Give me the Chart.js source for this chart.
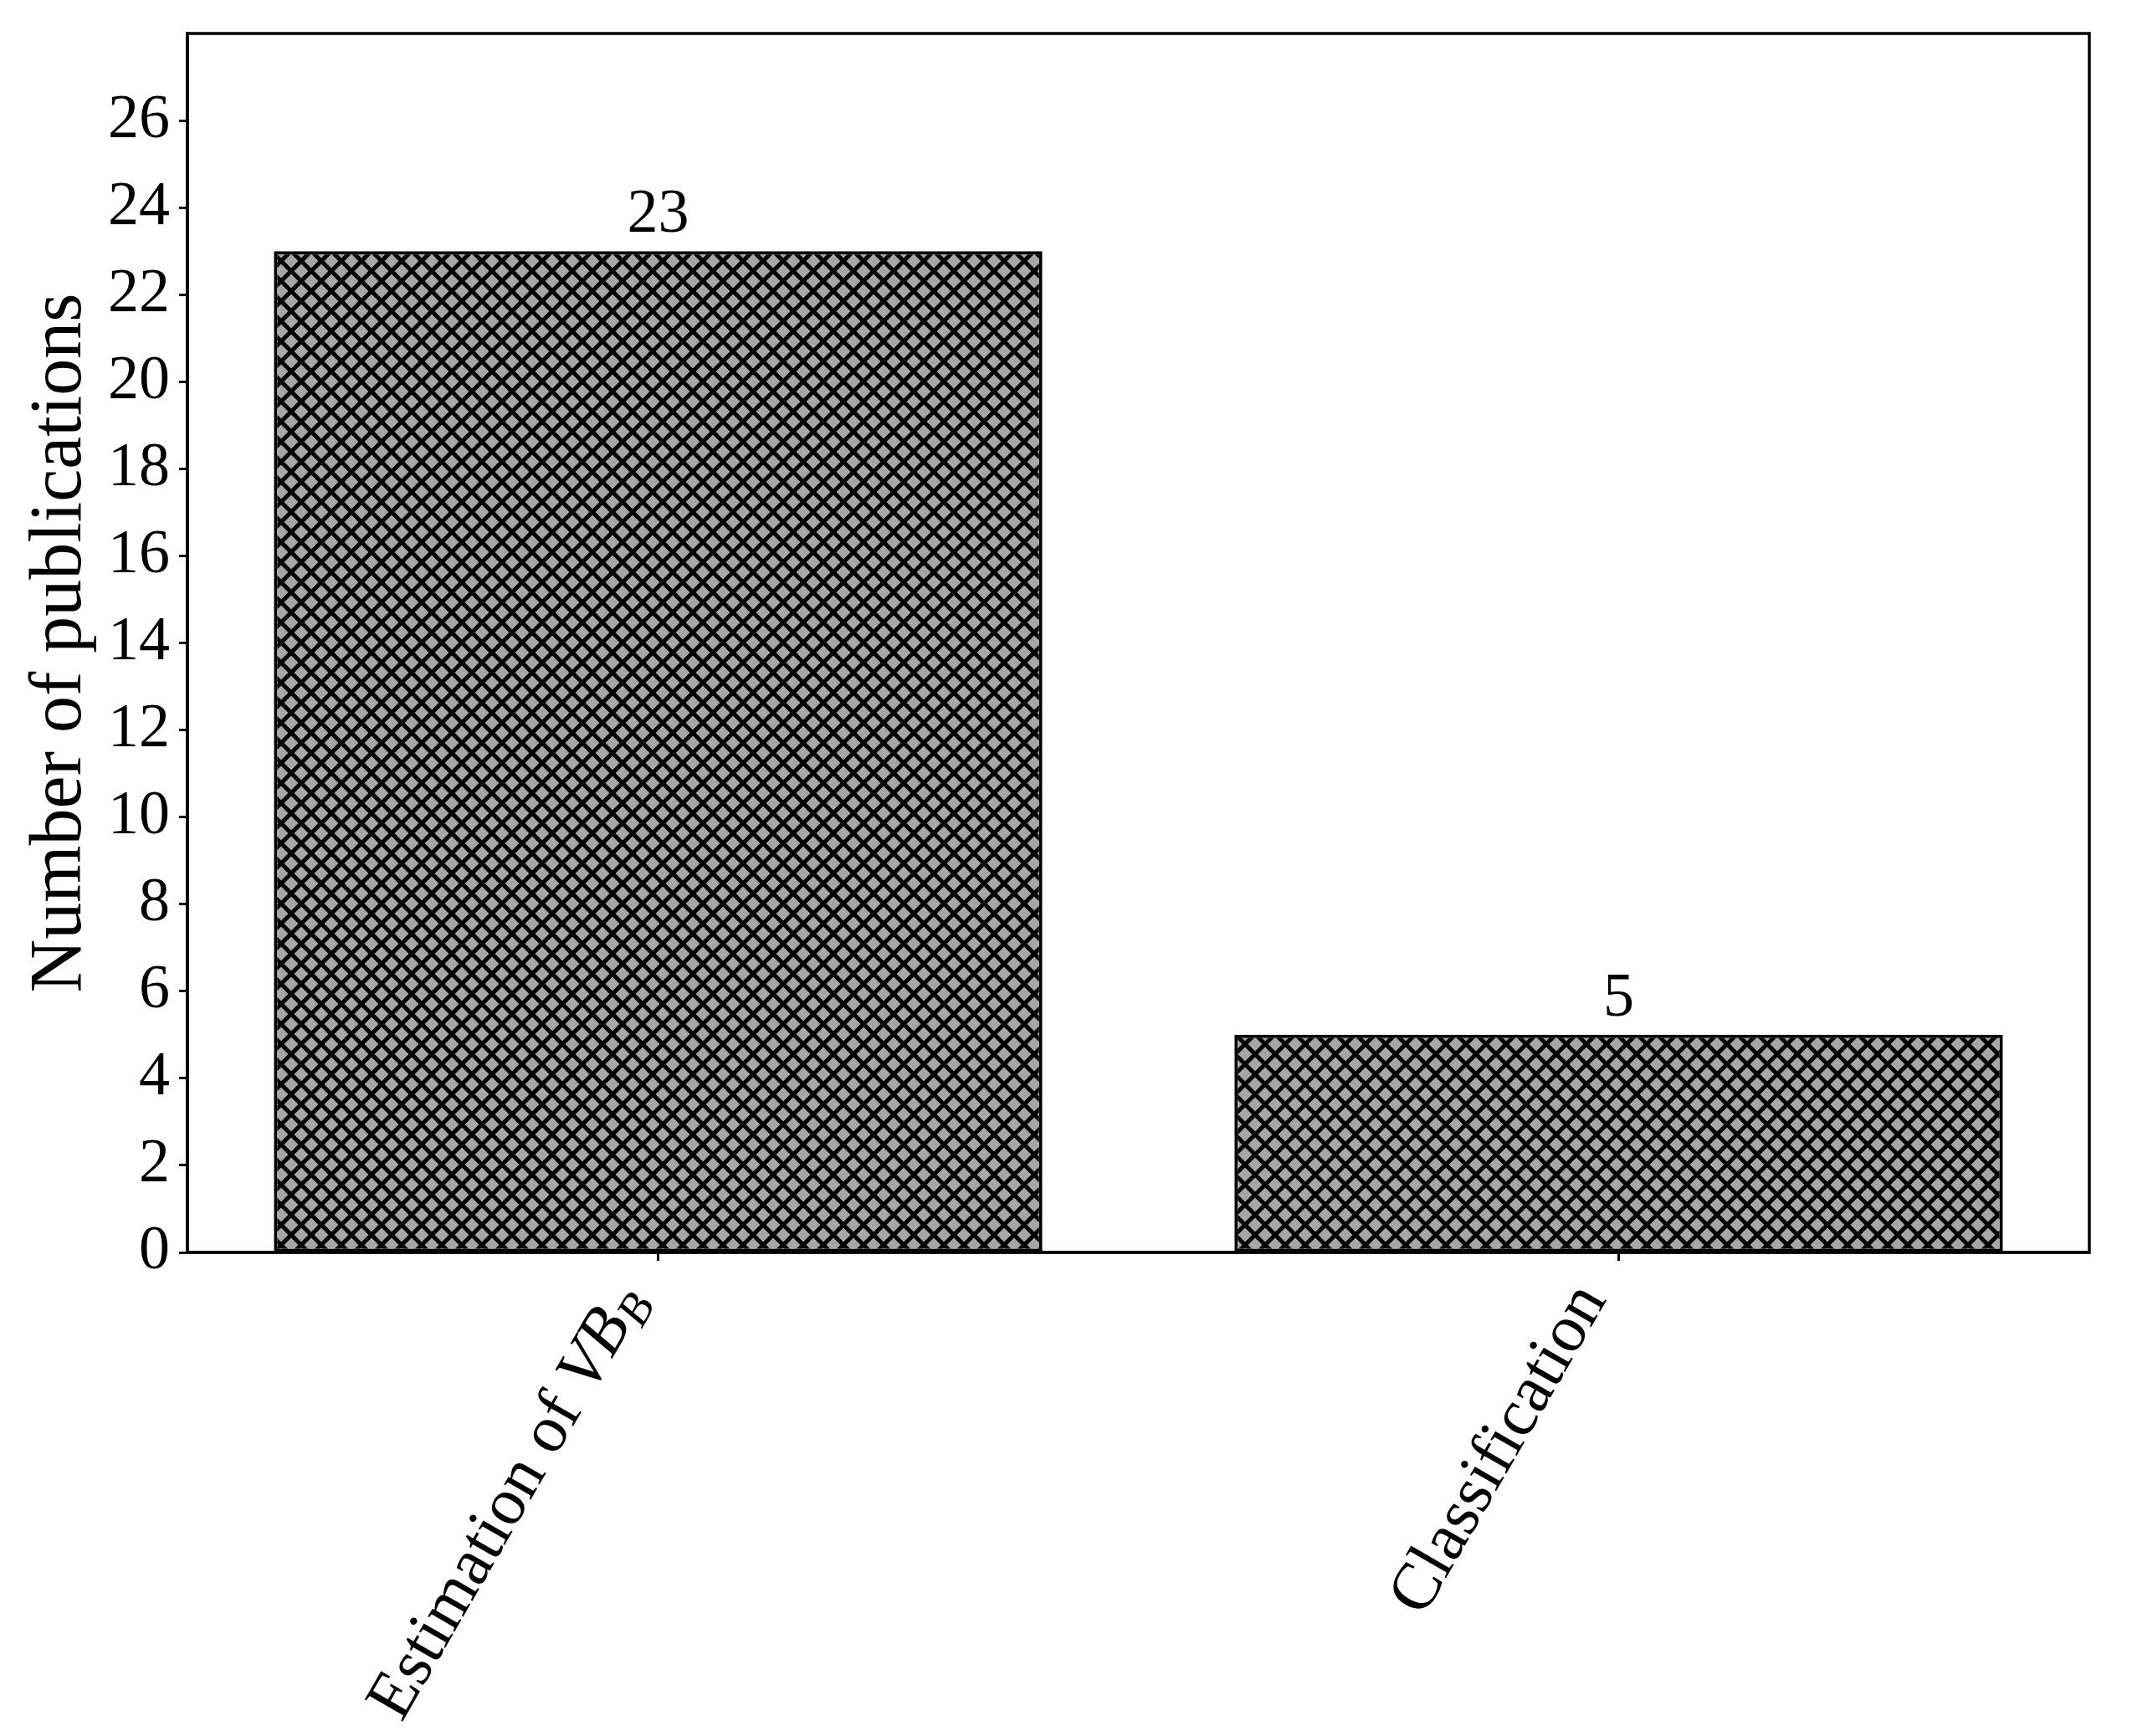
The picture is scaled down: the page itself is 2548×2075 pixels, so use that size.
<!DOCTYPE html>
<html><head><meta charset="utf-8">
<script src="https://cdn.jsdelivr.net/npm/chart.js@4.4.1/dist/chart.umd.min.js"></script>
<style>html,body{margin:0;padding:0;background:#fff;overflow:hidden}</style>
</head><body>
<canvas id="c" width="2548" height="2075"></canvas>
<script>
// ---- data ----
const categories = ['Estimation of VB_B', 'Classification'];
const categoryLabelParts = [
  [{t:'Estimation of ', italic:false}, {t:'VB', italic:true}, {t:'B', italic:true, sub:true}],
  [{t:'Classification', italic:false}]
];
const publications = [23, 5];
const categoryPositions = [0, 1];
const yTickValues = [0, 2, 4, 6, 8, 10, 12, 14, 16, 18, 20, 22, 24, 26];
const yMax = 28;
const xMin = -0.49, xMax = 1.49;
const yTitle = 'Number of publications';

// ---- style ----
const FONT = "'Liberation Serif', 'Times New Roman', serif";
const W = 2548, H = 2075;
const AREA = {left: 224, right: 2497, top: 40, bottom: 1497};

function makeHatch() {
  const p = 24;
  const c = document.createElement('canvas');
  c.width = p; c.height = p;
  const g = c.getContext('2d');
  g.fillStyle = '#a6a6a6';
  g.fillRect(0, 0, p, p);
  g.strokeStyle = '#000';
  g.lineWidth = 5;
  g.beginPath();
  for (let k = -1; k <= 1; k++) {
    g.moveTo(k * p, 0); g.lineTo(k * p + p, p);
    g.moveTo(k * p, p); g.lineTo(k * p + p, 0);
  }
  g.stroke();
  return g.createPattern(c, 'repeat');
}

const ctx0 = document.getElementById('c').getContext('2d');
const hatch = makeHatch();

const framePlugin = {
  id: 'frame',
  afterDraw(chart) {
    const {ctx, chartArea: a} = chart;
    ctx.save();
    ctx.strokeStyle = '#000';
    ctx.lineWidth = 3.5;
    ctx.strokeRect(a.left, a.top, a.right - a.left, a.bottom - a.top);
    ctx.restore();
  }
};

const valueLabelPlugin = {
  id: 'valueLabels',
  afterDatasetsDraw(chart) {
    const {ctx} = chart;
    const meta = chart.getDatasetMeta(0);
    ctx.save();
    ctx.fillStyle = '#000';
    ctx.font = `74px ${FONT}`;
    ctx.textAlign = 'center';
    ctx.textBaseline = 'alphabetic';
    meta.data.forEach((bar, i) => {
      ctx.fillText(String(publications[i]), bar.x, bar.y - 23);
    });
    ctx.restore();
  }
};

const xLabelPlugin = {
  id: 'xLabels',
  afterDraw(chart) {
    const {ctx} = chart;
    const xs = chart.scales.x;
    const size = 80;
    const y0 = xs.top + 10 + 14;
    const ang = Math.PI / 3;
    categories.forEach((cat, i) => {
      const parts = categoryLabelParts[i];
      const fontOf = p => `${p.italic ? 'italic ' : ''}${p.sub ? Math.round(size * 0.7) : size}px ${FONT}`;
      let w = 0;
      const ws = parts.map(p => { ctx.font = fontOf(p); const m = ctx.measureText(p.t).width; w += m; return m; });
      const tx = xs.getPixelForValue(categoryPositions[i]) - Math.sin(ang) * size;
      ctx.save();
      ctx.translate(tx, y0);
      ctx.rotate(-ang);
      ctx.fillStyle = '#000';
      ctx.textAlign = 'left';
      ctx.textBaseline = 'alphabetic';
      let x = -w;
      const base = 0.8 * size;
      parts.forEach((p, j) => {
        ctx.font = fontOf(p);
        ctx.fillText(p.t, x, base + (p.sub ? 0.16 * size : 0));
        x += ws[j];
      });
      ctx.restore();
    });
  }
};

new Chart(ctx0, {
  type: 'bar',
  data: {
    datasets: [{
      data: categoryPositions.map((x, i) => ({x: x, y: publications[i]})),
      backgroundColor: hatch,
      borderColor: '#000',
      borderWidth: 4,
      borderSkipped: false,
      categoryPercentage: 1,
      barPercentage: 0.8
    }]
  },
  options: {
    responsive: false,
    devicePixelRatio: 1,
    animation: false,
    events: [],
    layout: {padding: {top: AREA.top, right: W - AREA.right, left: 0, bottom: 0}},
    plugins: {legend: {display: false}, tooltip: {enabled: false}, title: {display: false}},
    scales: {
      x: {
        type: 'linear',
        min: xMin,
        max: xMax,
        offset: false,
        afterBuildTicks(s) { s.ticks = categoryPositions.map(v => ({value: v})); },
        grid: {display: true, offset: false, drawOnChartArea: false, drawTicks: true, tickLength: 10, tickColor: '#000', tickWidth: 3},
        border: {display: true, color: '#000', width: 3.5},
        ticks: {display: false},
        afterFit(s) { s.height = H - AREA.bottom; s.paddingLeft = 0; s.paddingRight = 0; }
      },
      y: {
        min: 0,
        max: yMax,
        grid: {display: true, offset: false, drawOnChartArea: false, drawTicks: true, tickLength: 10, tickColor: '#000', tickWidth: 3},
        border: {display: true, color: '#000', width: 3.5},
        afterBuildTicks(s) { s.ticks = yTickValues.map(v => ({value: v})); },
        ticks: {
          color: '#000',
          padding: 11,
          font: {family: FONT, size: 74},
          callback: v => String(v)
        },
        title: {
          display: true,
          text: yTitle,
          color: '#000',
          font: {family: FONT, size: 88},
          padding: {top: 20, bottom: 0}
        },
        afterFit(s) { s.width = AREA.left; s.paddingTop = 0; s.paddingBottom = 0; }
      }
    }
  },
  plugins: [framePlugin, valueLabelPlugin, xLabelPlugin]
});
</script>
</body></html>
